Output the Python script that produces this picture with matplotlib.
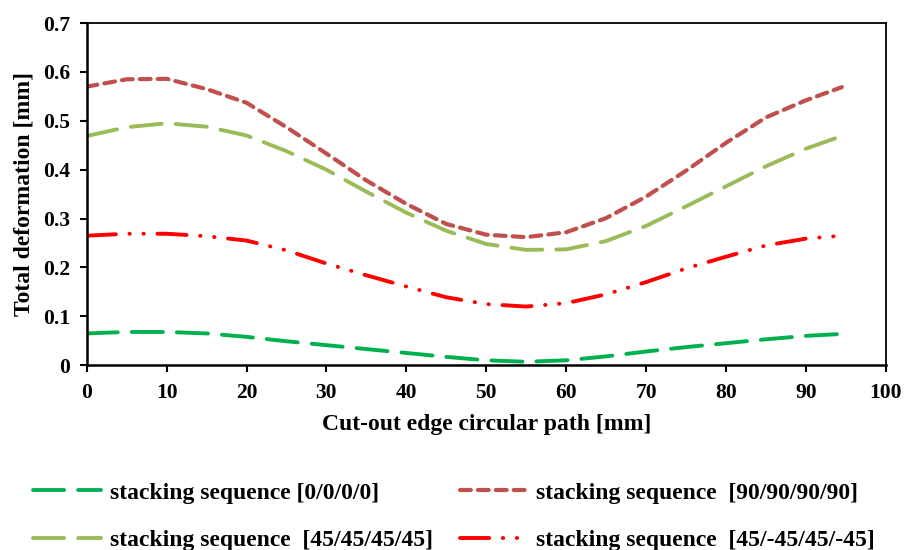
import matplotlib.pyplot as plt

plt.rcParams['font.family'] = ['Liberation Serif', 'DejaVu Serif']
plt.rcParams['font.weight'] = 'bold'

x_mm = [0, 5, 10, 15, 20, 25, 30, 35, 40, 45, 50, 55, 60, 65, 70, 75, 80, 85, 90, 94.5]

seq_0 = [0.065, 0.068, 0.068, 0.065, 0.058, 0.049, 0.041, 0.033, 0.025, 0.017, 0.010, 0.007,
         0.010, 0.018, 0.028, 0.037, 0.045, 0.053, 0.060, 0.064]
seq_90 = [0.570, 0.585, 0.586, 0.565, 0.537, 0.487, 0.433, 0.378, 0.330, 0.289, 0.267, 0.262,
          0.272, 0.301, 0.345, 0.398, 0.455, 0.507, 0.542, 0.569]
seq_45 = [0.469, 0.487, 0.495, 0.488, 0.470, 0.438, 0.400, 0.355, 0.312, 0.275, 0.248, 0.236,
          0.237, 0.254, 0.285, 0.325, 0.366, 0.407, 0.443, 0.469]
seq_pm45 = [0.265, 0.269, 0.269, 0.264, 0.255, 0.235, 0.208, 0.184, 0.161, 0.139, 0.125, 0.120,
            0.127, 0.145, 0.170, 0.198, 0.222, 0.245, 0.259, 0.265]

labels = ['stacking sequence [0/0/0/0]',
          'stacking sequence  [45/45/45/45]',
          'stacking sequence  [90/90/90/90]',
          'stacking sequence  [45/-45/45/-45]']

fig = plt.figure(figsize=(9.05, 5.5), dpi=100)
ax = fig.add_axes([0.0958, 0.336, 0.883, 0.622])

l1, = ax.plot(x_mm, seq_0, color='#00B050', lw=2.8, dash_capstyle='round')
l1.set_dashes([8, 3.6])
l2, = ax.plot(x_mm, seq_45, color='#9BBB59', lw=2.8, dash_capstyle='round')
l2.set_dashes([8, 3.6])
l3, = ax.plot(x_mm, seq_90, color='#C0504D', lw=3.0, dash_capstyle='round')
l3.set_dashes([2.6, 1.7])
l4, = ax.plot(x_mm, seq_pm45, color='#FF0000', lw=2.8, dash_capstyle='round')
l4.set_dashes([7.5, 3.5, 0.1, 3.5, 0.1, 3.5])

ax.set_xlim(0, 100)
ax.set_ylim(0, 0.7)
ax.set_xticks(range(0, 101, 10))
ax.set_yticks([0, 0.1, 0.2, 0.3, 0.4, 0.5, 0.6, 0.7])
ax.set_yticklabels(['0', '0.1', '0.2', '0.3', '0.4', '0.5', '0.6', '0.7'])
ax.tick_params(direction='out', length=5, width=1.5, labelsize=15.5)
ax.tick_params(axis='x', pad=8)
ax.tick_params(axis='y', pad=7)
for s in ['left', 'bottom']:
    ax.spines[s].set_linewidth(1.8)
for s in ['top', 'right']:
    ax.spines[s].set_linewidth(1.3)

ax.set_xlabel('Cut-out edge circular path [mm]', fontsize=17, fontweight='bold', labelpad=8)
ax.set_ylabel('Total deformation [mm]', fontsize=17, fontweight='bold', labelpad=6)

fig.legend([l1, l2, l3, l4], labels, ncol=2, loc='upper left',
           bbox_to_anchor=(33 / 905, 1 - 482 / 550),
           frameon=False, fontsize=17, handlelength=2.9, handletextpad=0.34,
           columnspacing=1.15, labelspacing=1.1, borderpad=0, borderaxespad=0)

plt.savefig('out.png', dpi=100)
